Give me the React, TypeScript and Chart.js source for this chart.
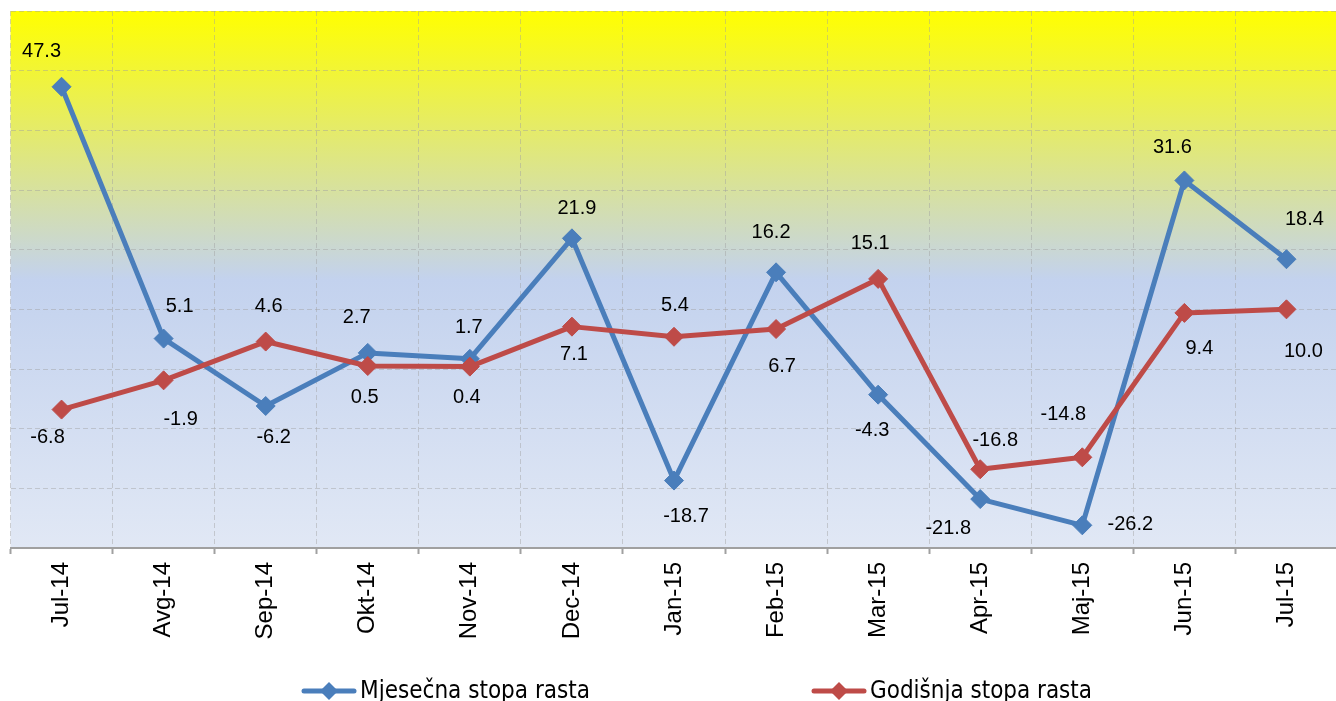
import React, { useEffect, useRef } from "react";
import { Chart, registerables } from "chart.js";

Chart.register(...registerables);

const categories = ["Jul-14", "Avg-14", "Sep-14", "Okt-14", "Nov-14", "Dec-14", "Jan-15", "Feb-15", "Mar-15", "Apr-15", "Maj-15", "Jun-15", "Jul-15"];
const monthlyRate = [47.3, 5.1, -6.2, 2.7, 1.7, 21.9, -18.7, 16.2, -4.3, -21.8, -26.2, 31.6, 18.4];
const annualRate = [-6.8, -1.9, 4.6, 0.5, 0.4, 7.1, 5.4, 6.7, 15.1, -16.8, -14.8, 9.4, 10.0];
const seriesNames = ["Mjesečna stopa rasta", "Godišnja stopa rasta"];

// label placement (offset from point, px) – styling only
const monthlyLabelPos = [[-20, -35], [16, -32], [8, 31], [-11, -35], [-1, -31], [5, -30], [12, 36], [-5, -40], [-6, 36], [-32, 29], [48, -1], [-12, -33], [18, -40]];
const annualLabelPos = [[-14, 28], [17, 39], [3, -35], [-3, 31], [-3, 31], [2, 28], [1, -31], [6, 37], [-8, -35], [15, -29], [-19, -43], [15, 36], [17, 42]];

const BLUE = "#4a7ebb";
const RED = "#be4b48";
const GRID = "rgba(160,160,160,0.45)";

const bgPlugin = {
  id: "bgGradient",
  beforeDraw(chart: any) {
    const { ctx, chartArea } = chart;
    if (!chartArea) return;
    const g = ctx.createLinearGradient(0, chartArea.top, 0, chartArea.bottom);
    g.addColorStop(0, "#ffff00");
    g.addColorStop(0.5, "#c3d2ee");
    g.addColorStop(1, "#e1e8f5");
    ctx.save();
    ctx.fillStyle = g;
    ctx.fillRect(chartArea.left, chartArea.top, chartArea.right - chartArea.left, chartArea.bottom - chartArea.top);
    ctx.restore();
  },
};

const labelPlugin = {
  id: "valueLabels",
  afterDatasetsDraw(chart: any) {
    const { ctx } = chart;
    ctx.save();
    ctx.font = '20px "Liberation Sans", Arial, sans-serif';
    ctx.fillStyle = "#000";
    ctx.textAlign = "center";
    ctx.textBaseline = "middle";
    chart.data.datasets.forEach((ds: any, di: number) => {
      const meta = chart.getDatasetMeta(di);
      const pos = di === 0 ? monthlyLabelPos : annualLabelPos;
      meta.data.forEach((pt: any, i: number) => {
        const v = ds.data[i] as number;
        ctx.fillText(v.toFixed(1), pt.x + pos[i][0], pt.y + pos[i][1]);
      });
    });
    ctx.restore();
  },
};

const legendPlugin = {
  id: "customLegend",
  afterDraw(chart: any) {
    const { ctx } = chart;
    const items = [
      { name: seriesNames[0], color: BLUE, x0: 302, x1: 356, tx: 360, tw: 230 },
      { name: seriesNames[1], color: RED, x0: 812, x1: 866, tx: 870, tw: 222 },
    ];
    const y = 691;
    ctx.save();
    items.forEach((it) => {
      ctx.strokeStyle = it.color;
      ctx.lineWidth = 5;
      ctx.lineCap = "round";
      ctx.beginPath();
      ctx.moveTo(it.x0 + 2, y);
      ctx.lineTo(it.x1 - 2, y);
      ctx.stroke();
      const cx = (it.x0 + it.x1) / 2;
      ctx.fillStyle = it.color;
      ctx.beginPath();
      ctx.moveTo(cx, y - 9);
      ctx.lineTo(cx + 9, y);
      ctx.lineTo(cx, y + 9);
      ctx.lineTo(cx - 9, y);
      ctx.closePath();
      ctx.fill();
      ctx.font = '25px "Liberation Sans Narrow", "DejaVu Sans Condensed", "Liberation Sans", sans-serif';
      ctx.fillStyle = "#000";
      ctx.textAlign = "left";
      ctx.textBaseline = "alphabetic";
      const w = ctx.measureText(it.name).width;
      const s = it.tw / w;
      ctx.save();
      ctx.translate(it.tx, 698);
      ctx.scale(s, 1);
      ctx.fillText(it.name, 0, 0);
      ctx.restore();
    });
    ctx.restore();
  },
};

export default function App() {
  const ref = useRef<HTMLCanvasElement | null>(null);
  useEffect(() => {
    if (!ref.current) return;
    const chart = new Chart(ref.current, {
      type: "line",
      data: {
        labels: categories,
        datasets: [
          {
            label: seriesNames[0],
            data: monthlyRate,
            borderColor: BLUE,
            backgroundColor: BLUE,
            borderWidth: 5,
            pointStyle: "rectRot",
            pointRadius: 9.5,
            pointBorderWidth: 1,
            pointBackgroundColor: BLUE,
            pointBorderColor: BLUE,
            tension: 0,
            borderJoinStyle: "round",
            borderCapStyle: "round",
            order: 1,
          },
          {
            label: seriesNames[1],
            data: annualRate,
            borderColor: RED,
            backgroundColor: RED,
            borderWidth: 5,
            pointStyle: "rectRot",
            pointRadius: 9.5,
            pointBorderWidth: 1,
            pointBackgroundColor: RED,
            pointBorderColor: RED,
            tension: 0,
            borderJoinStyle: "round",
            borderCapStyle: "round",
            order: 0,
          },
        ],
      },
      options: {
        responsive: false,
        animation: false,
        layout: { padding: { left: 10, right: 1, top: 11, bottom: 0 } },
        plugins: {
          legend: { display: false },
          tooltip: { enabled: false },
        },
        scales: {
          x: {
            offset: true,
            grid: {
              offset: true,
              color: GRID,
              drawTicks: true,
              tickLength: 6,
              tickColor: "#a0a0a0",
              tickWidth: 2,
              tickBorderDash: [],
            } as any,
            border: { display: true, color: "#a0a0a0", width: 2, dash: [5, 3] },
            ticks: {
              color: "#000",
              font: { family: '"Liberation Sans", Arial, sans-serif', size: 24 },
              maxRotation: 90,
              minRotation: 90,
              padding: 8,
              autoSkip: false,
            },
            afterFit: (scale: any) => {
              scale.height = 153;
            },
          },
          y: {
            min: -30,
            max: 60,
            ticks: { display: false, stepSize: 10 },
            grid: {
              color: GRID,
              drawTicks: false,
            } as any,
            border: { display: false, dash: [5, 3] },
          },
        },
      },
      plugins: [bgPlugin, labelPlugin, legendPlugin],
    });
    return () => chart.destroy();
  }, []);
  return (
    <div style={{ position: "fixed", left: 0, top: 0, width: 1336, height: 701, overflow: "hidden", background: "#fff" }}>
      <canvas ref={ref} width={1348} height={701} style={{ display: "block", width: 1348, height: 701 }} />
    </div>
  );
}
